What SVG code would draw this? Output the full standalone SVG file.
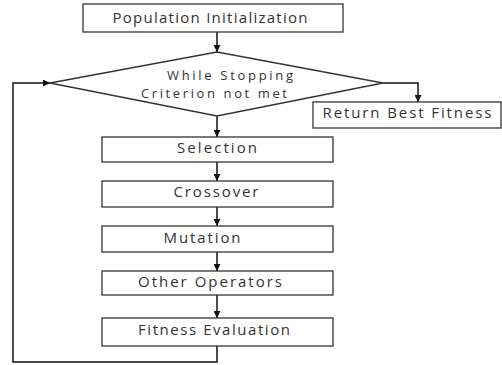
<svg xmlns="http://www.w3.org/2000/svg" width="502" height="365" viewBox="0 0 502 365">
<style>
.box{fill:#fff;stroke:#333;stroke-width:1.3}
.t{font-family:"Open Sans","Liberation Sans",sans-serif;font-size:15px;fill:#333;text-anchor:middle}
.d{font-size:13px}
.c{fill:none;stroke:#111;stroke-width:1.5}
</style>
<defs>
<marker id="ah" viewBox="0 0 10 10" refX="10" refY="5" markerWidth="7" markerHeight="7" markerUnits="userSpaceOnUse" orient="auto">
<path d="M0,0 L10,5 L0,10 z" fill="#111"/>
</marker>
</defs>
<rect width="502" height="365" fill="#fff"/>
<g id="connectors">
<path class="c" d="M217,32 V52" marker-end="url(#ah)"/>
<path class="c" d="M383,83 H418 V102" marker-end="url(#ah)"/>
<path class="c" d="M217,116 V137" marker-end="url(#ah)"/>
<path class="c" d="M217,162 V181" marker-end="url(#ah)"/>
<path class="c" d="M217,207 V226" marker-end="url(#ah)"/>
<path class="c" d="M217,252 V271" marker-end="url(#ah)"/>
<path class="c" d="M217,295 V318" marker-end="url(#ah)"/>
<path class="c" d="M217,346 V362 H13 V83 H50" marker-end="url(#ah)"/>
</g>
<g id="init">
<rect class="box" x="83" y="4" width="260" height="28"/>
<text class="t" x="210" y="23" textLength="195" lengthAdjust="spacing">Population Initialization</text>
</g>
<g id="decision">
<polygon class="box" points="217,52 383,83 217,116 50,83"/>
<text class="t d" x="230" y="80" textLength="126" lengthAdjust="spacing">While Stopping</text>
<text class="t d" x="214" y="97.5" textLength="146" lengthAdjust="spacing">Criterion not met</text>
</g>
<g id="return">
<rect class="box" x="313" y="102" width="188" height="26"/>
<text class="t" x="407" y="118" textLength="169" lengthAdjust="spacing">Return Best Fitness</text>
</g>
<g id="selection">
<rect class="box" x="102" y="137" width="231" height="25"/>
<text class="t" x="217" y="153" textLength="80" lengthAdjust="spacing">Selection</text>
</g>
<g id="crossover">
<rect class="box" x="102" y="181" width="231" height="26"/>
<text class="t" x="216" y="197" textLength="85" lengthAdjust="spacing">Crossover</text>
</g>
<g id="mutation">
<rect class="box" x="102" y="226" width="231" height="26"/>
<text class="t" x="202" y="243" textLength="77" lengthAdjust="spacing">Mutation</text>
</g>
<g id="other">
<rect class="box" x="102" y="271" width="231" height="24"/>
<text class="t" x="210" y="287" textLength="144" lengthAdjust="spacing">Other Operators</text>
</g>
<g id="fitness">
<rect class="box" x="102" y="318" width="231" height="28"/>
<text class="t" x="214" y="335" textLength="152" lengthAdjust="spacing">Fitness Evaluation</text>
</g>
</svg>
